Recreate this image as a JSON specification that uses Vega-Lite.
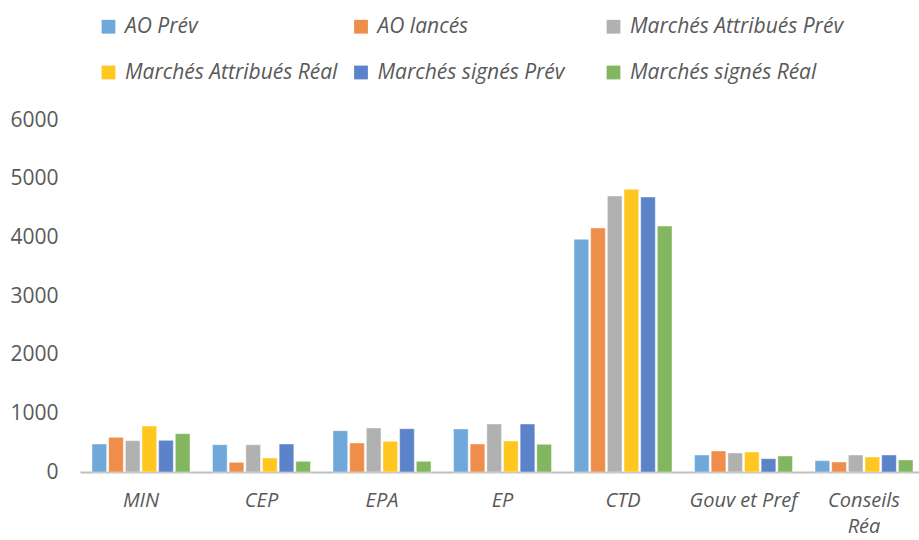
{
  "$schema": "https://vega.github.io/schema/vega-lite/v6.json",
  "autosize": {"type": "none"},
  "padding": {"left": 80, "top": 120, "right": 0, "bottom": 68},
  "width": 839,
  "height": 352,
  "background": "white",
  "config": {
    "view": {"stroke": null},
    "font": "Open Sans"
  },
  "data": {
    "values": [
      {"cat": "MIN", "serie": "AO Prév", "v": 477},
      {"cat": "MIN", "serie": "AO lancés", "v": 591},
      {"cat": "MIN", "serie": "Marchés Attribués Prév", "v": 534},
      {"cat": "MIN", "serie": "Marchés Attribués Réal", "v": 784},
      {"cat": "MIN", "serie": "Marchés signés Prév", "v": 540},
      {"cat": "MIN", "serie": "Marchés signés Réal", "v": 653},
      {"cat": "CEP", "serie": "AO Prév", "v": 465},
      {"cat": "CEP", "serie": "AO lancés", "v": 165},
      {"cat": "CEP", "serie": "Marchés Attribués Prév", "v": 465},
      {"cat": "CEP", "serie": "Marchés Attribués Réal", "v": 239},
      {"cat": "CEP", "serie": "Marchés signés Prév", "v": 477},
      {"cat": "CEP", "serie": "Marchés signés Réal", "v": 182},
      {"cat": "EPA", "serie": "AO Prév", "v": 704},
      {"cat": "EPA", "serie": "AO lancés", "v": 494},
      {"cat": "EPA", "serie": "Marchés Attribués Prév", "v": 750},
      {"cat": "EPA", "serie": "Marchés Attribués Réal", "v": 523},
      {"cat": "EPA", "serie": "Marchés signés Prév", "v": 738},
      {"cat": "EPA", "serie": "Marchés signés Réal", "v": 182},
      {"cat": "EP", "serie": "AO Prév", "v": 733},
      {"cat": "EP", "serie": "AO lancés", "v": 477},
      {"cat": "EP", "serie": "Marchés Attribués Prév", "v": 818},
      {"cat": "EP", "serie": "Marchés Attribués Réal", "v": 528},
      {"cat": "EP", "serie": "Marchés signés Prév", "v": 818},
      {"cat": "EP", "serie": "Marchés signés Réal", "v": 472},
      {"cat": "CTD", "serie": "AO Prév", "v": 3966},
      {"cat": "CTD", "serie": "AO lancés", "v": 4159},
      {"cat": "CTD", "serie": "Marchés Attribués Prév", "v": 4704},
      {"cat": "CTD", "serie": "Marchés Attribués Réal", "v": 4818},
      {"cat": "CTD", "serie": "Marchés signés Prév", "v": 4687},
      {"cat": "CTD", "serie": "Marchés signés Réal", "v": 4193},
      {"cat": "Gouv et Pref", "serie": "AO Prév", "v": 290},
      {"cat": "Gouv et Pref", "serie": "AO lancés", "v": 358},
      {"cat": "Gouv et Pref", "serie": "Marchés Attribués Prév", "v": 324},
      {"cat": "Gouv et Pref", "serie": "Marchés Attribués Réal", "v": 341},
      {"cat": "Gouv et Pref", "serie": "Marchés signés Prév", "v": 227},
      {"cat": "Gouv et Pref", "serie": "Marchés signés Réal", "v": 273},
      {"cat": "Conseils Réa", "serie": "AO Prév", "v": 193},
      {"cat": "Conseils Réa", "serie": "AO lancés", "v": 170},
      {"cat": "Conseils Réa", "serie": "Marchés Attribués Prév", "v": 290},
      {"cat": "Conseils Réa", "serie": "Marchés Attribués Réal", "v": 256},
      {"cat": "Conseils Réa", "serie": "Marchés signés Prév", "v": 290},
      {"cat": "Conseils Réa", "serie": "Marchés signés Réal", "v": 205}
    ]
  },
  "mark": {"type": "bar", "stroke": "white", "strokeWidth": 0.6, "strokeOpacity": 0.7},
  "encoding": {
    "x": {
      "field": "cat",
      "type": "nominal",
      "sort": null,
      "scale": {"paddingInner": 0.187, "paddingOuter": 0.0747, "align": 0.667},
      "axis": {
        "title": null,
        "labelAngle": 0,
        "labelFontSize": 20,
        "labelFontStyle": "italic",
        "labelColor": "#595959",
        "labelPadding": 18,
        "labelLineHeight": 26,
        "labelExpr": "datum.value == 'Conseils Réa' ? ['Conseils', 'Réa'] : datum.label",
        "ticks": false,
        "domainColor": "#BFBFBF",
        "domainWidth": 2
      }
    },
    "xOffset": {"field": "serie", "type": "nominal", "sort": null, "scale": {"paddingInner": 0.12}},
    "y": {
      "field": "v",
      "type": "quantitative",
      "scale": {"domain": [0, 6000]},
      "axis": {
        "title": null,
        "values": [0, 1000, 2000, 3000, 4000, 5000, 6000],
        "format": "d",
        "grid": false,
        "domain": false,
        "ticks": false,
        "labelFontSize": 21,
        "labelColor": "#595959",
        "labelPadding": 22
      }
    },
    "color": {
      "field": "serie",
      "type": "nominal",
      "sort": null,
      "scale": {
        "domain": ["AO Prév", "AO lancés", "Marchés Attribués Prév", "Marchés Attribués Réal", "Marchés signés Prév", "Marchés signés Réal"],
        "range": ["#71A8DA", "#EF8D4B", "#B1B1B1", "#FFC71F", "#5C83CA", "#82B75F"]
      },
      "legend": {
        "title": null,
        "orient": "none",
        "legendX": 18,
        "legendY": -104,
        "direction": "horizontal",
        "columns": 3,
        "gridAlign": "all",
        "columnPadding": 11.5,
        "rowPadding": 24,
        "padding": 0,
        "symbolType": "square",
        "symbolSize": 190,
        "symbolStrokeWidth": 0,
        "labelFontSize": 21,
        "labelFontStyle": "italic",
        "labelColor": "#595959",
        "labelOffset": 6,
        "labelLimit": 400
      }
    }
  }
}
